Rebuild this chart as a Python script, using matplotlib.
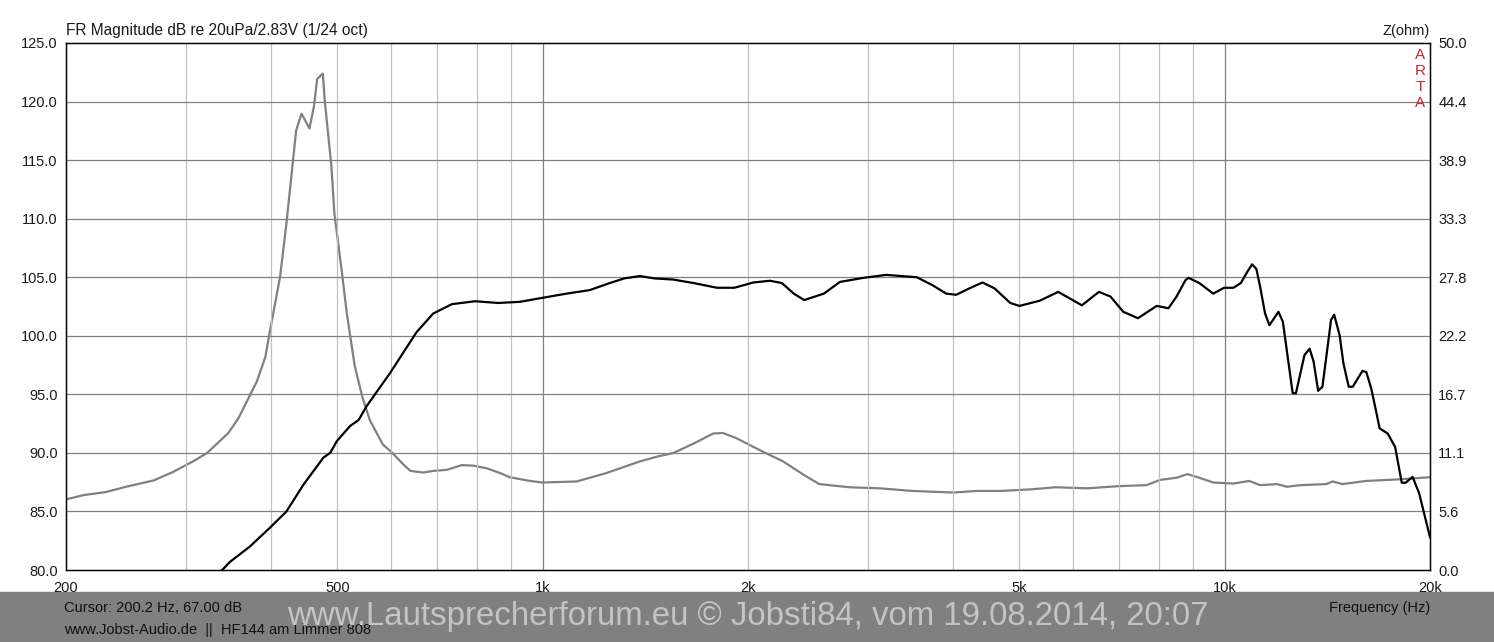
import numpy as np
import matplotlib
matplotlib.use("Agg")
import matplotlib.pyplot as plt
from matplotlib.patches import Rectangle

plt.rcParams['font.family'] = ['Liberation Sans', 'DejaVu Sans']

# SPL (black, left axis)
spl_freq = [330, 348, 372, 398, 421, 446, 477, 488, 499, 522, 537, 552, 597, 653, 691, 736, 796,
            861, 926, 990, 1084, 1172, 1254, 1317, 1388, 1457, 1554, 1665, 1801, 1910, 2036,
            2154, 2243, 2334, 2418, 2584, 2728, 2955, 3189, 3536, 3734, 3905, 4040, 4223, 4415,
            4597, 4848, 5000, 5360, 5700, 6174, 6540, 6800, 7100, 7460, 7950, 8270, 8500, 8760,
            8850, 9180, 9620, 9980, 10300, 10560, 10790, 10970, 11130, 11270, 11460, 11630,
            11990, 12170, 12580, 12720, 13090, 13320, 13500, 13710, 13910, 14320, 14470, 14740,
            14930, 15200, 15410, 15920, 16130, 16400, 16680, 16870, 17340, 17780, 18180, 18420,
            18860, 19280, 20000]
spl_db = [79.3, 80.7, 82.0, 83.6, 85.0, 87.3, 89.6, 90.0, 91.0, 92.3, 92.8, 94.0, 96.8, 100.3,
          101.9, 102.7, 102.95, 102.8, 102.9, 103.2, 103.6, 103.9, 104.5, 104.9, 105.1, 104.9,
          104.8, 104.5, 104.1, 104.1, 104.55, 104.7, 104.5, 103.6, 103.05, 103.6, 104.6, 104.95,
          105.2, 105.0, 104.3, 103.6, 103.5, 104.05, 104.55, 104.05, 102.8, 102.55, 103.0,
          103.75, 102.6, 103.75, 103.35, 102.05, 101.5, 102.55, 102.35, 103.35, 104.75, 104.95,
          104.5, 103.6, 104.1, 104.1, 104.5, 105.45, 106.1, 105.7, 104.2, 101.9, 100.9, 102.05,
          101.2, 95.1, 95.1, 98.35, 98.9, 97.8, 95.3, 95.65, 101.35, 101.8, 100.05, 97.65,
          95.65, 95.65, 97.0, 96.9, 95.5, 93.5, 92.1, 91.65, 90.5, 87.45, 87.45, 87.95, 86.55,
          82.8]

# impedance (grey, right axis)
z_freq = [200, 212, 229, 245, 269, 287, 307, 322, 346, 358, 381, 392, 398, 412, 421, 435, 443,
          455, 462, 467, 476, 479, 490, 495, 508, 516, 530, 544, 558, 583, 600, 625, 640, 668,
          691, 723, 761, 791, 828, 866, 895, 958, 1000, 1122, 1240, 1388, 1470, 1554, 1665,
          1778, 1838, 1924, 2106, 2252, 2418, 2544, 2818, 3120, 3483, 4000, 4333, 4690, 5200,
          5640, 6300, 6970, 7680, 8040, 8500, 8820, 9180, 9620, 10300, 10860, 11270, 11930,
          12340, 12930, 14080, 14400, 14880, 16130, 18020, 20000]
z_ohm = [6.7, 7.1, 7.4, 7.9, 8.5, 9.3, 10.3, 11.1, 13.0, 14.4, 17.9, 20.2, 22.6, 27.8, 32.9,
         41.7, 43.3, 41.9, 44.0, 46.6, 47.1, 44.6, 38.3, 33.8, 28.1, 24.4, 19.4, 16.4, 14.2,
         11.9, 11.2, 10.0, 9.4, 9.25, 9.4, 9.5, 9.95, 9.9, 9.65, 9.2, 8.8, 8.45, 8.3, 8.4, 9.2,
         10.3, 10.75, 11.1, 12.0, 12.95, 13.0, 12.5, 11.2, 10.3, 9.0, 8.15, 7.85, 7.75, 7.5,
         7.35, 7.5, 7.5, 7.65, 7.85, 7.75, 7.95, 8.05, 8.55, 8.75, 9.1, 8.75, 8.3, 8.2, 8.45,
         8.05, 8.15, 7.9, 8.05, 8.15, 8.4, 8.15, 8.45, 8.6, 8.8]

x_ticks = [200, 500, 1000, 2000, 5000, 10000, 20000]
x_labels = ["200", "500", "1k", "2k", "5k", "10k", "20k"]
grid_freqs = [300, 400, 500, 600, 700, 800, 900, 1000, 2000, 3000, 4000, 5000, 6000, 7000,
              8000, 9000, 10000]
db_ticks = [80, 85, 90, 95, 100, 105, 110, 115, 120, 125]
z_labels = ["0.0", "5.6", "11.1", "16.7", "22.2", "27.8", "33.3", "38.9", "44.4", "50.0"]

W, H = 1494, 642
fig = plt.figure(figsize=(W / 100, H / 100), dpi=100)
ax = fig.add_axes([66 / W, (H - 570) / H, (1430 - 66) / W, (570 - 43) / H])
ax.set_xscale('log')
ax.set_xlim(200, 20000)
ax.set_ylim(80, 125)

# grid
for f in grid_freqs:
    col = '#808080' if f in (1000, 10000) else '#c0c0c0'
    ax.axvline(f, color=col, lw=0.9, zorder=1)
for d in db_ticks[1:-1]:
    ax.axhline(d, color='#808080', lw=0.9, zorder=1)

ax.set_xticks(x_ticks)
ax.set_xticklabels(x_labels)
ax.xaxis.set_minor_locator(matplotlib.ticker.NullLocator())
ax.set_yticks(db_ticks)
ax.set_yticklabels([f"{d:.1f}" for d in db_ticks])
ax.tick_params(length=0, labelsize=10.5, colors='#1a1a1a')
ax.tick_params(axis='x', pad=8)
ax.tick_params(axis='y', pad=6)
for s in ax.spines.values():
    s.set_color('black')
    s.set_linewidth(1.0)

ax2 = ax.twinx()
ax2.set_ylim(0, 50)
ax2.set_yticks(np.linspace(0, 50, len(z_labels)))
ax2.set_yticklabels(z_labels)
ax2.tick_params(length=0, labelsize=10.5, colors='#1a1a1a', pad=6)

ax2.plot(z_freq, z_ohm, color='#808080', lw=1.6, zorder=3)
ax.plot(spl_freq, spl_db, color='black', lw=1.6, zorder=4)
ax.set_zorder(ax2.get_zorder() + 1)
ax.patch.set_visible(False)

fig.text(66 / W, 1 - 30 / H, "FR Magnitude dB re 20uPa/2.83V (1/24 oct)", fontsize=11.2,
         va='center', ha='left', color='#1a1a1a')
fig.text(1430 / W, 1 - 31 / H, "Z(ohm)", fontsize=10.5, va='center', ha='right', color='#1a1a1a')
for i, ch in enumerate("ARTA"):
    fig.text(1420 / W, 1 - (55 + i * 16) / H, ch, fontsize=11, va='center', ha='center',
             color='#c8262b')

# bottom band
fig.patches.append(Rectangle((0, 0), 1, 50 / H, transform=fig.transFigure,
                             color='#808080', zorder=0))
fig.text(64 / W, 1 - 608 / H, "Cursor: 200.2 Hz, 67.00 dB", fontsize=10.5, va='center',
         color='#111111')
fig.text(64 / W, 1 - 630 / H, "www.Jobst-Audio.de  ||  HF144 am Limmer 808", fontsize=10.5,
         va='center', color='#111111')
fig.text(1430 / W, 1 - 608 / H, "Frequency (Hz)", fontsize=10.5, va='center', ha='right',
         color='#111111')
fig.text(748 / W, 1 - 617 / H, "www.Lautsprecherforum.eu \u00a9 Jobsti84, vom 19.08.2014, 20:07",
         fontsize=23.8, va='center', ha='center', color='#c4c4c4', zorder=5)

fig.savefig("out.png", dpi=100, facecolor='white')
